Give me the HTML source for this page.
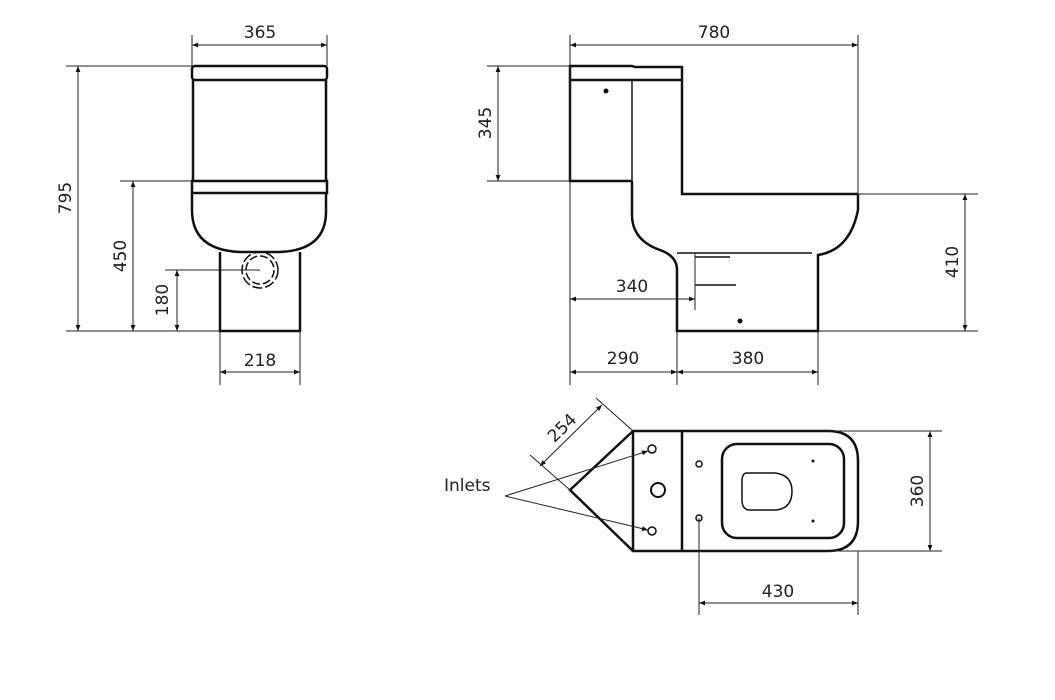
<!DOCTYPE html>
<html><head><style>body{margin:0;background:#fff}svg{display:block}text{font-family:"DejaVu Sans","Liberation Sans",sans-serif;font-size:17px;fill:#222}</style></head>
<body>
<svg width="1055" height="700" viewBox="0 0 1055 700" xmlns="http://www.w3.org/2000/svg">
<defs><marker id="a" viewBox="0 0 10 10" refX="10" refY="5" markerWidth="9" markerHeight="6" orient="auto-start-reverse"><path d="M0,1 L10,5 L0,9 z" fill="#111"/></marker></defs>
<g fill="none" stroke="#111" stroke-width="2.5">
<rect x="192" y="66" width="135" height="14" rx="3"/>
<path d="M193,80 V181 M326,80 V181"/>
<rect x="192" y="181" width="135" height="12"/>
<path d="M192,193 V210 Q192,250 240,252 L280,252 Q327,250 326,210 V193"/>
<path d="M220,252 V331 H300 V252"/>
<path d="M570,80 V66 H632 L635,67 H682 V80 M570,80 H682 M570,80 V181 H632 M682,80 V194 H858"/>
<path d="M632,181 V215 Q632,240 660,250 Q677,256 677,270 V331 H818 V255 Q850,250 858,210 V194"/>
<path d="M633,431 H682 V551 H633 Z M633,431 L570,490 L633,551"/>
<path d="M682,431 H828 Q858,431 858,461 V521 Q858,551 828,551 H682"/>
<rect x="722" y="444" width="122" height="94" rx="15"/>
</g>
<g fill="none" stroke="#111" stroke-width="1.5">
<circle cx="260" cy="270" r="14" stroke-dasharray="8,3"/>
<circle cx="260" cy="270" r="18" stroke-dasharray="10,3"/>
<path d="M632,80 V181"/>
<path d="M677,253 H812"/>
<path d="M695,257 H730 M695,285 H736"/>
<path d="M747,473 H775 Q792,475 792,491 Q792,509 775,510 H750 Q742,510 742,500 V481 Q742,473 747,473 Z"/>
<circle cx="652" cy="449" r="4"/><circle cx="652" cy="531" r="4"/>
<circle cx="658" cy="490" r="7" stroke-width="2"/>
<circle cx="699" cy="464" r="3"/><circle cx="699" cy="518" r="3"/>
</g>
<g fill="#111"><circle cx="606" cy="91" r="2.5"/><circle cx="740" cy="321" r="2.5"/><circle cx="813" cy="461" r="1.5"/><circle cx="813" cy="521" r="1.5"/></g>
<g stroke="#222" stroke-width="1" fill="none">
<path d="M192,35 V66 M327,35 V66 M66,66 H192 M66,331 H220 M120,181 H192 M165,270 H260 M220,331 V385 M300,331 V385"/>
<path d="M570,35 V385 M858,35 V194 M487,66 H570 M487,181 H570 M858,194 H978 M818,331 H978 M695,253 V310 M677,331 V385 M818,331 V385"/>
<path d="M828,431 H942 M828,551 H942 M699,518 V615 M858,551 V615 M633,431 L596,398 M570,490 L530,455"/>
</g>
<g stroke="#222" stroke-width="1" fill="none" marker-end="url(#a)">
<path d="M505,496 L648,451"/><path d="M505,496 L648,530"/>
</g>
<g stroke="#222" stroke-width="1" fill="none" marker-start="url(#a)" marker-end="url(#a)">
<path d="M192,45 H327"/><path d="M78,66 V331"/><path d="M133,181 V331"/><path d="M177,270 V331"/><path d="M220,372 H300"/>
<path d="M570,45 H858"/><path d="M498,66 V181"/><path d="M965,194 V331"/><path d="M570,299 H695"/><path d="M570,372 H677"/><path d="M677,372 H818"/>
<path d="M930,431 V551"/><path d="M699,603 H858"/><path d="M540,466 L602,405"/>
</g>
<text x="260" y="38" text-anchor="middle">365</text>
<text transform="translate(71,198) rotate(-90)" text-anchor="middle">795</text>
<text transform="translate(126,256) rotate(-90)" text-anchor="middle">450</text>
<text transform="translate(168,300) rotate(-90)" text-anchor="middle">180</text>
<text x="260" y="366" text-anchor="middle">218</text>
<text x="714" y="38" text-anchor="middle">780</text>
<text transform="translate(491,123) rotate(-90)" text-anchor="middle">345</text>
<text transform="translate(958,262) rotate(-90)" text-anchor="middle">410</text>
<text x="632" y="292" text-anchor="middle">340</text>
<text x="623" y="364" text-anchor="middle">290</text>
<text x="748" y="364" text-anchor="middle">380</text>
<text transform="translate(923,491) rotate(-90)" text-anchor="middle">360</text>
<text x="778" y="597" text-anchor="middle">430</text>
<text transform="translate(566,432) rotate(-44)" text-anchor="middle">254</text>
<text x="444" y="491">Inlets</text>
</svg>
</body></html>
